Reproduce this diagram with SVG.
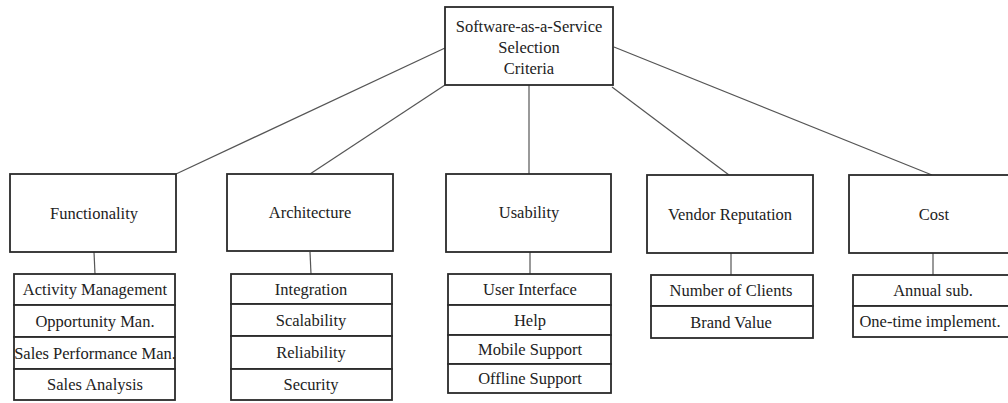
<svg xmlns="http://www.w3.org/2000/svg" width="1008" height="403" viewBox="0 0 1008 403">
  <style>
    .box { fill: #ffffff; stroke: #2a2a2a; stroke-width: 1.8; }
    .row { fill: #ffffff; stroke: #2a2a2a; stroke-width: 1.8; }
    .link { stroke: #555555; stroke-width: 1.2; fill: none; }
    text { font-family: "Liberation Serif", "DejaVu Serif", serif; font-size: 16.5px; fill: #222222; text-anchor: middle; }
  </style>
  <rect width="1008" height="403" fill="#ffffff"/>

  <!-- connectors -->
  <g id="connectors">
    <line class="link" x1="445" y1="48" x2="176" y2="174"/>
    <line class="link" x1="445" y1="85" x2="310" y2="174"/>
    <line class="link" x1="529" y1="85" x2="529" y2="174"/>
    <line class="link" x1="612" y1="87" x2="729" y2="175"/>
    <line class="link" x1="614" y1="47" x2="932" y2="175"/>
    <line class="link" x1="94" y1="252" x2="95" y2="274"/>
    <line class="link" x1="310" y1="252" x2="311" y2="274"/>
    <line class="link" x1="530" y1="252" x2="530" y2="274"/>
    <line class="link" x1="731" y1="253" x2="731" y2="275"/>
    <line class="link" x1="933" y1="253" x2="933" y2="275"/>
  </g>

  <!-- root -->
  <g id="root">
    <rect class="box" x="445" y="7" width="168" height="78"/>
    <text x="529" y="32">Software-as-a-Service</text>
    <text x="529" y="53">Selection</text>
    <text x="529" y="74">Criteria</text>
  </g>

  <!-- Functionality -->
  <g id="functionality">
    <rect class="box" x="10" y="174" width="166" height="78"/>
    <text x="94" y="219">Functionality</text>
  </g>
  <g id="functionality-items">
    <rect class="row" x="14" y="274" width="161" height="31"/>
    <text x="95" y="295">Activity Management</text>
    <rect class="row" x="14" y="305" width="161" height="32"/>
    <text x="95" y="326.5">Opportunity Man.</text>
    <rect class="row" x="14" y="337" width="161" height="32"/>
    <text x="95" y="358.5">Sales Performance Man.</text>
    <rect class="row" x="14" y="369" width="161" height="31"/>
    <text x="95" y="390">Sales Analysis</text>
  </g>

  <!-- Architecture -->
  <g id="architecture">
    <rect class="box" x="227" y="174" width="166" height="77"/>
    <text x="310" y="218">Architecture</text>
  </g>
  <g id="architecture-items">
    <rect class="row" x="231" y="274" width="161" height="30"/>
    <text x="311" y="294.5">Integration</text>
    <rect class="row" x="231" y="304" width="161" height="32"/>
    <text x="311" y="325.5">Scalability</text>
    <rect class="row" x="231" y="336" width="161" height="33"/>
    <text x="311" y="358">Reliability</text>
    <rect class="row" x="231" y="369" width="161" height="31"/>
    <text x="311" y="390">Security</text>
  </g>

  <!-- Usability -->
  <g id="usability">
    <rect class="box" x="446" y="174" width="165" height="78"/>
    <text x="529" y="218">Usability</text>
  </g>
  <g id="usability-items">
    <rect class="row" x="448" y="274" width="163" height="31"/>
    <text x="530" y="295">User Interface</text>
    <rect class="row" x="448" y="305" width="163" height="30"/>
    <text x="530" y="325.5">Help</text>
    <rect class="row" x="448" y="335" width="163" height="29"/>
    <text x="530" y="355">Mobile Support</text>
    <rect class="row" x="448" y="364" width="163" height="29"/>
    <text x="530" y="384">Offline Support</text>
  </g>

  <!-- Vendor Reputation -->
  <g id="vendor-reputation">
    <rect class="box" x="647" y="175" width="166" height="78"/>
    <text x="730" y="220">Vendor Reputation</text>
  </g>
  <g id="vendor-reputation-items">
    <rect class="row" x="651" y="275" width="162" height="31"/>
    <text x="731" y="296">Number of Clients</text>
    <rect class="row" x="651" y="306" width="162" height="32"/>
    <text x="731" y="327.5">Brand Value</text>
  </g>

  <!-- Cost -->
  <g id="cost">
    <rect class="box" x="849" y="175" width="168" height="78"/>
    <text x="934" y="220">Cost</text>
  </g>
  <g id="cost-items">
    <rect class="row" x="853" y="275" width="164" height="31"/>
    <text x="933" y="296">Annual sub.</text>
    <rect class="row" x="853" y="306" width="164" height="31"/>
    <text x="930" y="327">One-time implement.</text>
  </g>
</svg>
